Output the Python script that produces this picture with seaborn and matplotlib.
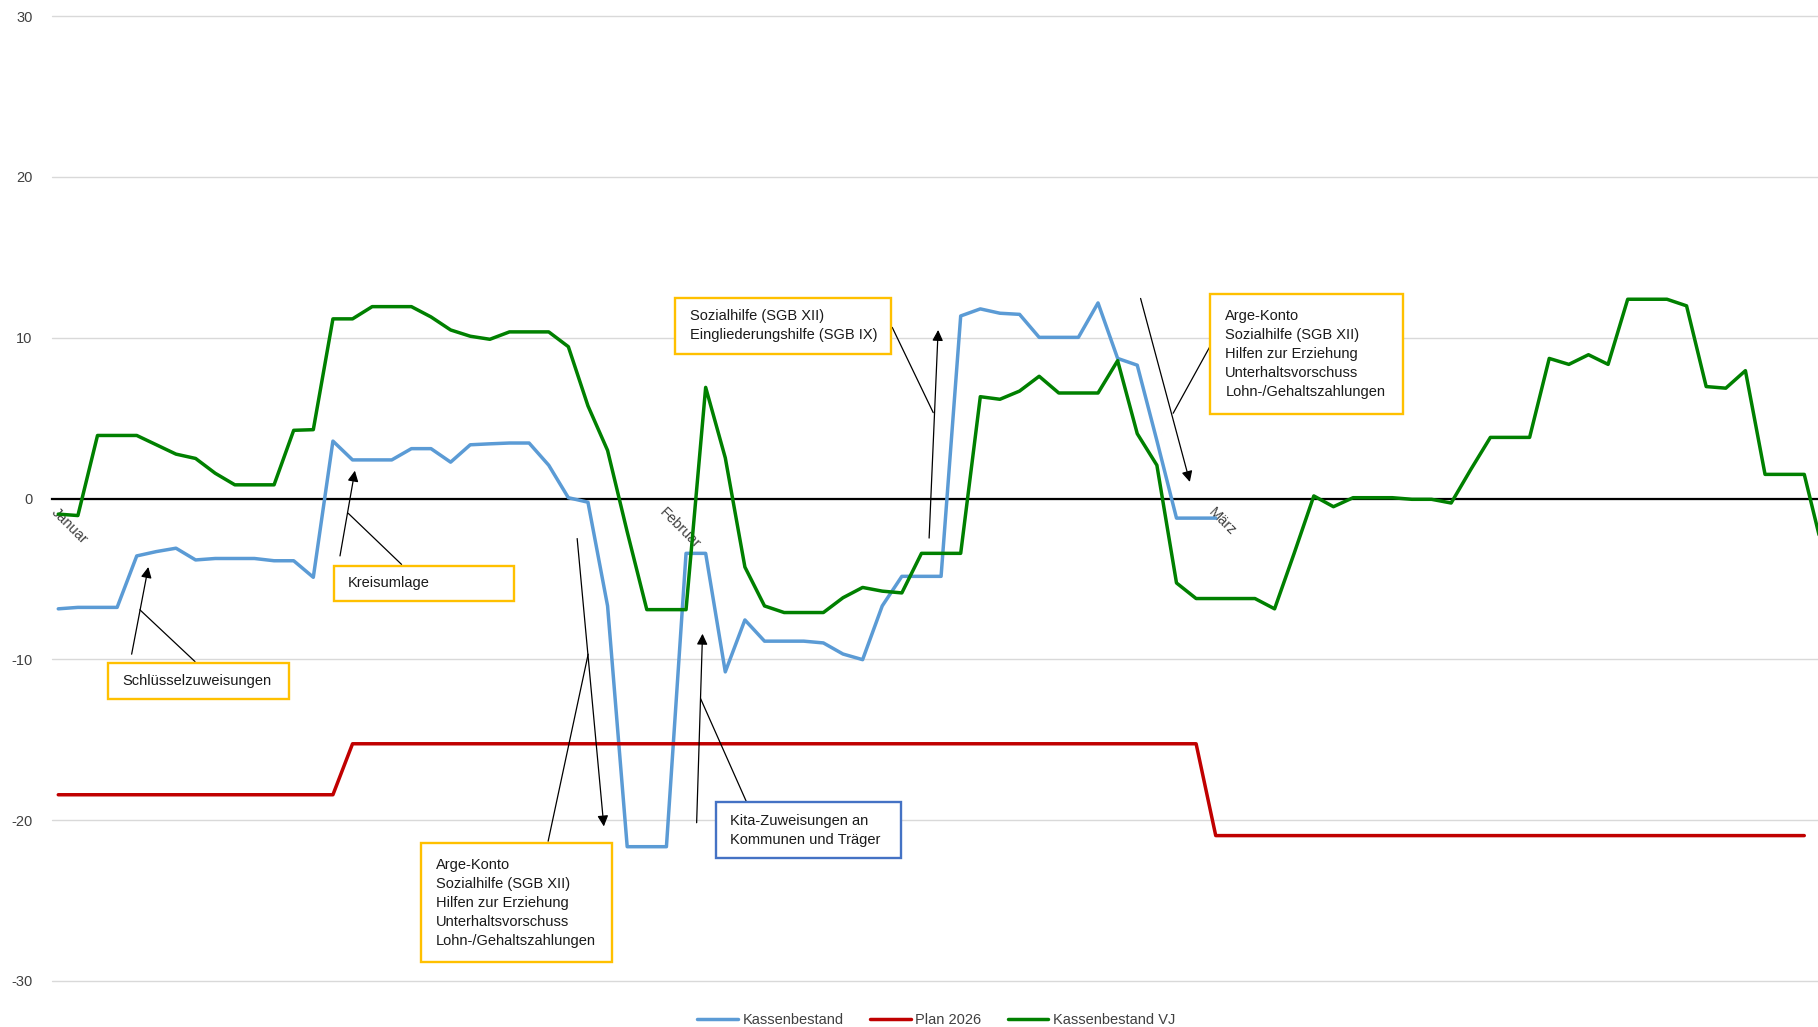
import matplotlib
matplotlib.use("Agg")
import matplotlib.pyplot as plt
from matplotlib.patches import Rectangle
import seaborn as sns
import pandas as pd

# --- Daily values (Mio. EUR), index 0 = 1. Januar ---
kassenbestand = [
    -6.86, -6.77, -6.77, -6.77, -3.57, -3.30, -3.09, -3.82, -3.73, -3.73,
    -3.73, -3.87, -3.87, -4.90, 3.57, 2.40, 2.40, 2.40, 3.10, 3.10,
    2.26, 3.34, 3.40, 3.45, 3.45, 2.07, 0.05, -0.23, -6.68, -21.65,
    -21.65, -21.65, -3.41, -3.41, -10.78, -7.55, -8.87, -8.87, -8.87, -8.98,
    -9.67, -10.02, -6.68, -4.84, -4.84, -4.84, 11.35, 11.79, 11.52, 11.45,
    10.02, 10.02, 10.02, 12.16, 8.71, 8.29, 3.60, -1.22, -1.22, -1.22,
]
plan_2026 = [-18.42] * 15 + [-15.25] * 44 + [-20.96] * 31
kassenbestand_vj = [
    -0.97, -1.06, 3.92, 3.92, 3.92, 3.34, 2.76, 2.49, 1.57, 0.85,
    0.85, 0.85, 4.24, 4.28, 11.17, 11.17, 11.93, 11.93, 11.93, 11.29,
    10.48, 10.09, 9.90, 10.36, 10.36, 10.36, 9.44, 5.76, 2.99, -2.07,
    -6.91, -6.91, -6.91, 6.91, 2.53, -4.26, -6.68, -7.09, -7.09, -7.09,
    -6.17, -5.53, -5.76, -5.87, -3.41, -3.41, -3.41, 6.33, 6.17, 6.68,
    7.60, 6.56, 6.56, 6.56, 8.57, 4.03, 2.07, -5.25, -6.22, -6.22,
    -6.22, -6.22, -6.86, -3.40, 0.16, -0.51, 0.05, 0.05, 0.05, -0.05,
    -0.05, -0.28, 1.80, 3.80, 3.80, 3.80, 8.71, 8.34, 8.94, 8.34,
    12.39, 12.39, 12.39, 11.98, 6.96, 6.86, 7.95, 1.50, 1.50, 1.50,
    -3.50,
]
month_labels = ["Januar", "Februar", "März"]
month_pos = [0, 31, 59]
y_ticks = [-30, -20, -10, 0, 10, 20, 30]

series = [
    ("Kassenbestand", kassenbestand, "#5B9BD5"),
    ("Plan 2026", plan_2026, "#C00000"),
    ("Kassenbestand VJ", kassenbestand_vj, "#008000"),
]

# callouts: text, box (x0, x1, y0, y1), text left, box colour, arrow (tail, head), leader (start, end)
notes = [
    ("Schlüsselzuweisungen", (2.52, 11.74, -12.48, -10.24), 3.29, "#FFC000",
     ((3.74, -9.68), (4.59, -4.26)), ((6.97, -10.14), (4.16, -6.92))),
    ("Kreisumlage", (14.05, 23.21, -6.35, -4.19), 14.76, "#FFC000",
     ((14.36, -3.57), (15.12, 1.73)), ((17.5, -4.1), (14.78, -0.92))),
    ("Sozialhilfe (SGB XII)\nEingliederungshilfe (SGB IX)", (31.42, 42.47, 9.01, 12.47), 32.19, "#FFC000",
     ((44.39, -2.46), (44.85, 10.48)), ((42.51, 10.64), (44.6, 5.34))),
    ("Kita-Zuweisungen an\nKommunen und Träger", (33.55, 42.95, -22.36, -18.89), 34.26, "#4472C4",
     ((32.54, -20.16), (32.84, -8.41)), ((35.09, -18.89), (32.74, -12.44))),
    ("Arge-Konto\nSozialhilfe (SGB XII)\nHilfen zur Erziehung\nUnterhaltsvorschuss\nLohn-/Gehaltszahlungen",
     (18.48, 28.23, -28.84, -21.42), 19.25, "#FFC000",
     ((26.45, -2.49), (27.81, -20.39)), ((24.97, -21.31), (27.01, -9.68))),
    ("Arge-Konto\nSozialhilfe (SGB XII)\nHilfen zur Erziehung\nUnterhaltsvorschuss\nLohn-/Gehaltszahlungen",
     (58.72, 68.53, 5.26, 12.69), 59.49, "#FFC000",
     ((55.17, 12.44), (57.68, 1.03)), ((58.7, 9.44), (56.83, 5.3))),
]

sns.set_theme(style="white")
plt.rcParams["font.family"] = ["Liberation Sans", "DejaVu Sans"]
plt.rcParams["axes.unicode_minus"] = False

fig = plt.figure(figsize=(18.18, 10.27), dpi=100)
ax = fig.add_axes([0.0286, 0.0448, 0.9714, 0.9396])

for name, values, color in series:
    df = pd.DataFrame({"tag": range(len(values)), "wert": values})
    sns.lineplot(data=df, x="tag", y="wert", ax=ax, color=color, linewidth=2.5, label=name)

# x axis crosses at 0 (set before the ticks: set_position resets them)
for side in ["left", "right", "top"]:
    ax.spines[side].set_visible(False)
ax.spines["bottom"].set_position(("data", 0))
ax.spines["bottom"].set_color("black")
ax.spines["bottom"].set_linewidth(1.6)
ax.spines["bottom"].set_zorder(1.5)

ax.set_xlim(-0.32, 89.7)
ax.set_ylim(-30, 30)
ax.set_yticks(y_ticks)
ax.set_xticks(month_pos)
ax.set_xticklabels(month_labels, rotation=-45, ha="left", va="top",
                   rotation_mode="anchor", fontsize=10.5, color="#404040")
ax.tick_params(axis="x", length=0, pad=5)
ax.tick_params(axis="y", length=0, pad=14, labelsize=10.5, labelcolor="#404040")
ax.set_xlabel("")
ax.set_ylabel("")
ax.yaxis.grid(True, color="#D9D9D9", linewidth=1)
ax.xaxis.grid(False)
for gl in ax.get_ygridlines():
    gl.set_clip_on(False)

for text, (x0, x1, y0, y1), tx, ec, (a_tail, a_head), (l_start, l_end) in notes:
    ax.add_patch(Rectangle((x0, y0), x1 - x0, y1 - y0, fc="white", ec=ec, lw=1.7, zorder=5))
    ax.text(tx, (y0 + y1) / 2, text, ha="left", va="center", fontsize=10.5,
            color="#1a1a1a", linespacing=1.45, zorder=6)
    ax.annotate("", xy=a_head, xytext=a_tail,
                arrowprops=dict(arrowstyle="-|>", color="black", lw=0.9,
                                mutation_scale=16, shrinkA=0, shrinkB=0), zorder=4)
    ax.annotate("", xy=l_end, xytext=l_start,
                arrowprops=dict(arrowstyle="-", color="black", lw=0.9,
                                shrinkA=0, shrinkB=0), zorder=4)

handles, labels = ax.get_legend_handles_labels()
ax.get_legend().remove()
fig.legend(handles, labels, loc="lower center", bbox_to_anchor=(0.515, -0.013), ncol=3,
           frameon=False, fontsize=10.5, handlelength=2.8, handletextpad=0.3,
           columnspacing=1.8, labelcolor="#404040")

fig.savefig("out.png", dpi=100)
